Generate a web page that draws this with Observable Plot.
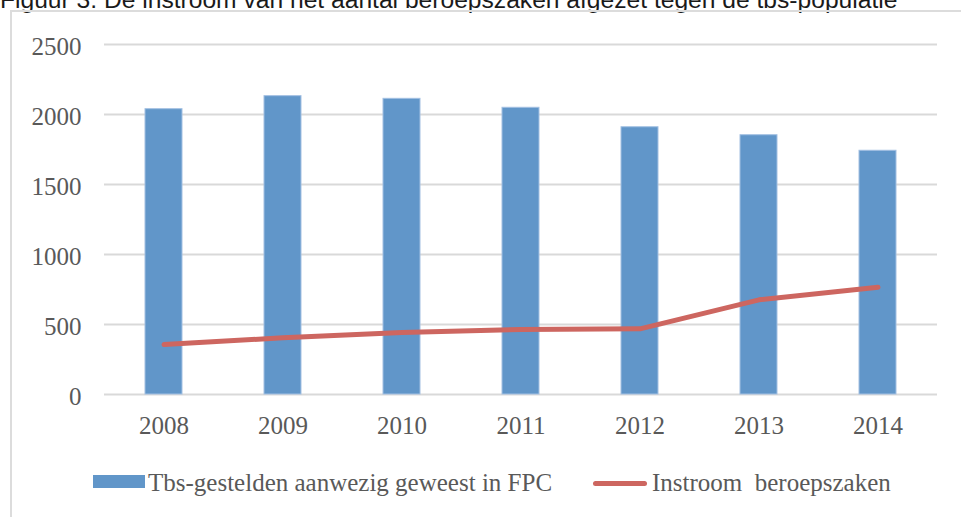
<!DOCTYPE html>
<html>
<head>
<meta charset="utf-8">
<script src="https://cdn.jsdelivr.net/npm/d3@7"></script>
<script src="https://cdn.jsdelivr.net/npm/@observablehq/plot@0.6"></script>
<style>
  html, body { margin: 0; padding: 0; background: #fff; }
  body { width: 961px; height: 517px; overflow: hidden; position: relative; font-family: "Liberation Serif", serif; }
  #title { position: absolute; left: 0; top: -12px; font-family: "Liberation Sans", sans-serif; font-size: 21px; line-height: 21px; white-space: nowrap; color: #1a1a1a; }
  #frame { position: absolute; left: 10px; top: 10px; width: 960px; height: 520px; border-left: 2px solid #dcdcdc; border-top: 2px solid #dcdcdc; }
  #chart { position: absolute; left: 0; top: 0; }
  .legtext { position: absolute; font-size: 25px; line-height: 25px; color: #595959; white-space: pre; }
</style>
</head>
<body>
<div id="title"></div>
<div id="frame"></div>
<div id="chart"></div>
<div id="legend"></div>
<script>
const titleText = "Figuur 3. De instroom van het aantal beroepszaken afgezet tegen de tbs-populatie";
const years = ["2008", "2009", "2010", "2011", "2012", "2013", "2014"];
const tbsGestelden = [2038, 2131, 2112, 2048, 1909, 1852, 1741];
const instroomBeroepszaken = [357, 405, 443, 464, 469, 676, 766];
const yTicks = [0, 500, 1000, 1500, 2000, 2500];
const seriesNames = ["Tbs-gestelden aanwezig geweest in FPC", "Instroom  beroepszaken"];
const seriesColors = ["#6196c9", "#cd6660"];

const data = years.map((y, i) => ({year: y, tbs: tbsGestelden[i], instroom: instroomBeroepszaken[i]}));

// Title (partially cut off at the top, as in the reference)
const t = document.getElementById("title");
t.textContent = titleText;
{
  const c = document.createElement("canvas").getContext("2d");
  c.font = '21px "Liberation Sans"';
  const w = c.measureText(titleText).width;
  const fs = 21 * 898 / w;
  t.style.fontSize = fs + "px";
  t.style.lineHeight = fs + "px";
}

const chart = Plot.plot({
  width: 961,
  height: 517,
  marginLeft: 104,
  marginRight: 24,
  marginTop: 44,
  marginBottom: 123,
  style: {fontFamily: '"Liberation Serif", serif', fontSize: "25px", color: "#595959", background: "transparent", overflow: "visible"},
  x: {type: "band", domain: years, paddingInner: 0.69, paddingOuter: 0.345, label: null},
  y: {domain: [0, 2500], label: null},
  marks: [
    Plot.ruleY(yTicks, {stroke: "#d9d9d9", strokeWidth: 2}),
    Plot.barY(data, {x: "year", y: "tbs", fill: seriesColors[0], stroke: "#a3c0e2", strokeWidth: 1}),
    Plot.line(data, {x: "year", y: "instroom", stroke: seriesColors[1], strokeWidth: 5, strokeLinecap: "round", strokeLinejoin: "round"}),
    Plot.axisY(yTicks, {tickSize: 0, tickPadding: 23, fontSize: 25, fill: "#595959", dy: 2, label: null, tickFormat: d => String(d)}),
    Plot.axisX({tickSize: 0, tickPadding: 22, fontSize: 25, fill: "#595959", label: null})
  ]
});
document.getElementById("chart").appendChild(chart);

// Legend (HTML, below the plot area)
const legend = document.getElementById("legend");
function add(el, css) { Object.assign(el.style, css); legend.appendChild(el); return el; }
add(document.createElement("div"), {position: "absolute", left: "93px", top: "475px", width: "52px", height: "13px", background: seriesColors[0]});
const lt1 = add(document.createElement("div"), {left: "148px", top: "470px"});
lt1.className = "legtext"; lt1.textContent = seriesNames[0];
add(document.createElement("div"), {position: "absolute", left: "593px", top: "481px", width: "54px", height: "5px", borderRadius: "3px", background: seriesColors[1]});
const lt2 = add(document.createElement("div"), {left: "652px", top: "470px"});
lt2.className = "legtext"; lt2.textContent = seriesNames[1];
</script>
</body>
</html>
